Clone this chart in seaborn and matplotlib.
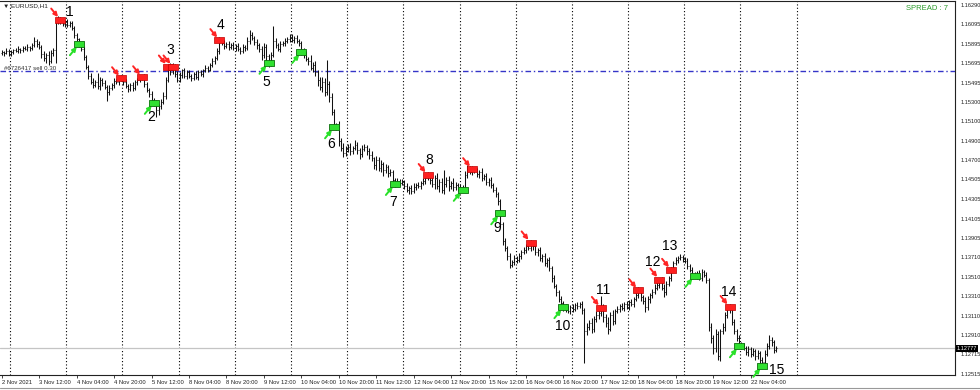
import numpy as np
import seaborn as sns
import matplotlib.pyplot as plt
import matplotlib.transforms as mtransforms
from matplotlib.path import Path
from matplotlib.lines import Line2D

# EURUSD H1, 2 Nov 20:00 .. 22 Nov 15:00, prices in pips above 1.12000
first_open = 380
close_pips = [
    381, 380, 382, 379,
    381, 383, 382, 384, 383, 385, 384, 386, 385, 388, 392, 389, 386, 379, 375, 378, 372, 380, 383, 412, 415, 413, 410, 412,
    409, 411, 405, 398, 394, 389, 384, 376, 366, 356, 350, 347, 350, 346, 352, 349, 345, 340, 344, 347, 351, 350, 353, 354,
    350, 346, 343, 347, 344, 350, 352, 354, 355, 348, 342, 338, 332, 329, 322, 326, 330, 336, 352, 366, 360, 367, 358, 352,
    357, 362, 356, 360, 356, 354, 358, 355, 360, 358, 362, 365, 363, 368, 372, 375, 382, 393, 390, 387, 389, 386, 388, 385,
    387, 384, 382, 386, 385, 392, 398, 395, 391, 388, 384, 378, 386, 377, 370, 378, 392, 388, 384, 389, 390, 392, 394, 396,
    393, 395, 392, 390, 382, 378, 374, 372, 365, 368, 360, 352, 345, 350, 340, 348, 335, 320, 305, 306, 290, 283, 278, 282,
    284, 280, 283, 286, 281, 277, 282, 284, 280, 276, 272, 265, 270, 262, 266, 260, 263, 257, 258, 250, 246, 249, 247, 248,
    244, 240, 242, 239, 243, 245, 244, 247, 249, 252, 255, 250, 246, 252, 244, 248, 240, 246, 250, 244, 247, 243, 245, 241,
    243, 240, 255, 262, 258, 261, 259, 256, 258, 252, 254, 248, 250, 245, 240, 236, 228, 205, 188, 180, 172, 163, 166, 170,
    168, 172, 176, 178, 182, 180, 186, 182, 176, 178, 170, 172, 165, 168, 160, 150, 142, 135, 128, 124, 120, 118, 116, 120,
    118, 122, 121, 123, 117, 95, 100, 104, 98, 108, 112, 114, 119, 110, 104, 98, 112, 106, 116, 118, 121, 119, 123, 120,
    125, 123, 128, 132, 137, 130, 126, 120, 128, 132, 135, 140, 143, 148, 140, 135, 144, 150, 158, 165, 168, 170, 171, 169,
    167, 162, 158, 154, 152, 154, 150, 156, 153, 148, 100, 88, 78, 92, 70, 95, 100, 112, 118, 120, 105, 96, 88, 82,
    80, 78, 74, 77, 72, 75, 70, 73, 66, 64, 72, 80, 86, 84, 76, 78,
]
up_wick = [
    2, 1, 3, 2,
    2, 1, 2, 3, 1, 2, 2, 3, 1, 2, 4, 2, 3, 2, 3, 2, 4, 3, 2, 2, 3, 2, 3, 2,
    3, 2, 2, 3, 2, 1, 2, 3, 2, 2, 3, 4, 2, 9, 3, 2, 3, 2, 3, 2, 3, 2, 2, 3,
    2, 3, 2, 2, 3, 2, 2, 3, 2, 3, 2, 2, 3, 2, 3, 2, 3, 4, 3, 2, 4, 3, 2, 3,
    3, 2, 3, 2, 3, 2, 2, 3, 2, 3, 2, 3, 2, 2, 3, 2, 3, 3, 2, 3, 2, 3, 2, 3,
    2, 3, 2, 3, 2, 4, 5, 3, 2, 3, 2, 3, 4, 3, 2, 3, 16, 3, 2, 3, 2, 3, 2, 3,
    3, 2, 3, 2, 2, 3, 4, 2, 6, 3, 4, 2, 3, 5, 4, 25, 3, 4, 3, 2, 4, 3, 5, 3,
    3, 4, 2, 5, 3, 2, 4, 3, 2, 3, 4, 2, 5, 3, 4, 2, 3, 2, 3, 2, 2, 3, 2, 3,
    2, 3, 2, 3, 4, 2, 3, 2, 3, 2, 3, 2, 4, 3, 5, 3, 4, 14, 3, 4, 2, 5, 3, 2,
    3, 2, 4, 3, 2, 3, 2, 3, 2, 4, 2, 3, 2, 3, 2, 3, 2, 3, 2, 3, 2, 3, 2, 3,
    2, 3, 2, 3, 2, 4, 3, 2, 3, 2, 3, 2, 3, 2, 3, 2, 3, 2, 2, 3, 2, 3, 4, 2,
    3, 2, 3, 2, 3, 2, 4, 3, 5, 3, 4, 3, 12, 4, 3, 6, 3, 5, 2, 3, 2, 3, 2, 3,
    2, 3, 2, 3, 4, 3, 2, 4, 3, 2, 3, 4, 3, 2, 3, 4, 3, 2, 3, 2, 3, 2, 3, 2,
    2, 3, 2, 3, 2, 3, 4, 3, 2, 3, 2, 4, 3, 6, 4, 3, 4, 3, 2, 3, 2, 3, 2, 3,
    2, 3, 2, 3, 2, 3, 2, 3, 2, 3, 4, 3, 5, 3, 2, 2,
]
dn_wick = [
    2, 3, 1, 2,
    2, 2, 1, 2, 3, 2, 1, 2, 3, 2, 2, 3, 2, 4, 3, 5, 4, 2, 3, 13, 2, 3, 2, 3,
    2, 3, 2, 3, 2, 3, 2, 3, 2, 3, 2, 3, 2, 3, 4, 3, 2, 9, 3, 2, 3, 2, 3, 2,
    3, 2, 3, 2, 3, 2, 3, 2, 2, 3, 2, 3, 2, 3, 8, 6, 3, 2, 3, 2, 3, 2, 3, 2,
    2, 3, 2, 3, 2, 3, 2, 2, 3, 2, 3, 2, 3, 2, 2, 3, 2, 3, 2, 3, 2, 3, 2, 2,
    3, 2, 3, 2, 3, 2, 3, 2, 3, 4, 3, 5, 3, 6, 4, 3, 2, 3, 2, 3, 2, 3, 2, 3,
    2, 3, 2, 3, 4, 3, 2, 4, 3, 5, 4, 6, 3, 5, 4, 3, 5, 4, 3, 4, 5, 3, 4, 3,
    3, 4, 3, 2, 4, 6, 3, 2, 4, 5, 3, 4, 5, 3, 4, 6, 3, 4, 3, 4, 3, 2, 3, 2,
    3, 2, 4, 3, 2, 3, 2, 3, 2, 3, 2, 4, 3, 5, 3, 6, 3, 4, 3, 5, 3, 4, 3, 2,
    3, 2, 2, 3, 2, 3, 2, 3, 4, 3, 2, 3, 4, 3, 2, 3, 4, 3, 5, 3, 4, 3, 2, 3,
    3, 2, 3, 2, 3, 2, 3, 4, 3, 4, 3, 4, 3, 4, 3, 4, 3, 4, 3, 3, 4, 3, 2, 3,
    3, 2, 3, 2, 4, 32, 4, 3, 5, 4, 3, 4, 3, 5, 4, 6, 3, 4, 3, 2, 3, 2, 3, 2,
    3, 2, 3, 2, 3, 4, 3, 5, 3, 4, 3, 2, 3, 4, 3, 5, 3, 2, 3, 2, 2, 3, 2, 3,
    2, 3, 2, 3, 2, 3, 2, 3, 2, 3, 4, 5, 6, 4, 4, 5, 3, 4, 3, 4, 3, 4, 3, 2,
    3, 2, 3, 4, 3, 2, 4, 3, 4, 4, 3, 2, 3, 4, 3, 2,
]

# signal arrows (bar index, price in pips)
sell_idx = [25, 51, 60, 71, 73, 93, 182, 201, 226, 256, 272, 281, 286, 311]
sell_pips = [414, 354, 355, 366, 366, 393, 255, 261, 186, 119, 137, 148, 158, 120]
buy_idx = [33, 65, 114, 128, 142, 168, 197, 213, 240, 296, 315, 325]
buy_pips = [389, 329, 370, 381, 304, 246, 240, 216, 120, 152, 80, 60]

sig_num = list(range(1, 16))
sig_idx = [25, 65, 71, 93, 114, 142, 168, 182, 213, 240, 256, 281, 286, 311, 325]
sig_pips = [414, 329, 366, 393, 370, 304, 246, 255, 216, 120, 119, 148, 158, 120, 60]

time_labels = ["2 Nov 2021", "3 Nov 12:00", "4 Nov 04:00", "4 Nov 20:00", "5 Nov 12:00",
               "8 Nov 04:00", "8 Nov 20:00", "9 Nov 12:00", "10 Nov 04:00", "10 Nov 20:00",
               "11 Nov 12:00", "12 Nov 04:00", "12 Nov 20:00", "15 Nov 12:00", "16 Nov 04:00",
               "16 Nov 20:00", "17 Nov 12:00", "18 Nov 04:00", "18 Nov 20:00", "19 Nov 12:00",
               "22 Nov 04:00"]
price_ticks = [1.16290, 1.16095, 1.15895, 1.15695, 1.15495, 1.15300, 1.15100, 1.14900,
               1.14700, 1.14505, 1.14305, 1.14105, 1.13905, 1.13710, 1.13510, 1.13310,
               1.13110, 1.12910, 1.12715, 1.12515]
order_price = 1.15615
order_text = "#6726417 sell 0.30"
last_price = 1.12777
spread_text = "SPREAD : 7"
symbol_text = "EURUSD,H1"

# label offsets in pixels (dx right, dy down) from each numbered signal
label_off = {1: (10, -8), 2: (-3, 14), 3: (2, -17), 4: (1, -15), 5: (-2, 19),
             6: (-3, 17), 7: (-2, 18), 8: (2, -15), 9: (-3, 15), 10: (-1, 19),
             11: (2, -18), 12: (-7, -18), 13: (-1, -24), 14: (-1, -15), 15: (14, 4)}

sns.set_theme(style="white")
plt.rcParams['font.family'] = ['Liberation Sans', 'DejaVu Sans']

base = 1.12
c = base + np.array(close_pips) * 1e-4
o = np.r_[base + first_open * 1e-4, c[:-1]]
hi = np.maximum(o, c) + np.array(up_wick) * 1e-4
lo = np.minimum(o, c) - np.array(dn_wick) * 1e-4
x = np.arange(len(c))

fig = plt.figure(figsize=(9.8, 3.9), dpi=100)
ax = fig.add_axes([0, 15 / 390, 955 / 980, 374.2 / 390])
ax.set_xlim(-0.73, 407.3)
ax.set_ylim(1.12505, 1.16333)

# day separators
for d in np.arange(4, 341, 24):
    ax.axvline(d - 0.4, color="black", lw=0.8, ls=(0, (1, 2)), zorder=1)

ax.axhline(last_price, color="#c4c4c4", lw=0.9, zorder=1)
ax.axhline(order_price, color="#3535c8", lw=1.0, ls=(0, (4, 2, 1, 2)), zorder=1)
ax.text(0.004, order_price + 0.00003, order_text, transform=mtransforms.blended_transform_factory(ax.transAxes, ax.transData),
        fontsize=4.4, color="#333333", va="bottom", ha="left")

# OHLC bars
ax.vlines(x, lo, hi, color="#111111", lw=0.75, zorder=3)
ax.hlines(o, x - 0.4, x, color="#111111", lw=0.6, zorder=3)
ax.hlines(c, x, x + 0.4, color="#111111", lw=0.6, zorder=3)

box = Path([(-1.7, -1), (1.7, -1), (1.7, 1), (-1.7, 1), (-1.7, -1)],
           [Path.MOVETO, Path.LINETO, Path.LINETO, Path.LINETO, Path.CLOSEPOLY])

sell_p = base + np.array(sell_pips) * 1e-4
buy_p = base + np.array(buy_pips) * 1e-4
for i, p in zip(sell_idx, sell_p):
    ax.annotate("", xy=(i, p), xytext=(-6.5, 8), textcoords="offset points",
                arrowprops=dict(arrowstyle="-|>", color="#ff2424", lw=1.4, shrinkA=0, shrinkB=2.5,
                                mutation_scale=6), zorder=4)
for i, p in zip(buy_idx, buy_p):
    ax.annotate("", xy=(i, p), xytext=(-6.5, -8), textcoords="offset points",
                arrowprops=dict(arrowstyle="-|>", color="#28e028", lw=1.4, shrinkA=0, shrinkB=2.5,
                                mutation_scale=6), zorder=4)
sns.scatterplot(x=sell_idx, y=sell_p, marker=box, s=58, color="#ff2020", edgecolor="#c00000",
                linewidth=0.5, ax=ax, zorder=5)
sns.scatterplot(x=buy_idx, y=buy_p, marker=box, s=58, color="#30e030", edgecolor="#0b6e0b",
                linewidth=0.6, ax=ax, zorder=5)

for n, i, pp in zip(sig_num, sig_idx, sig_pips):
    dx, dy = label_off[n]
    ax.annotate(str(n), xy=(i, base + pp * 1e-4), xytext=(dx * 0.72, -dy * 0.72),
                textcoords="offset points", ha="center", va="center", fontsize=10, color="black", zorder=6)

# axes
ax.yaxis.tick_right()
ax.set_yticks(price_ticks)
ax.set_yticklabels([f"{v:.5f}" for v in price_ticks])
ax.set_xticks(np.arange(0, 16 * len(time_labels), 16))
ax.set_xticklabels(time_labels)
for lab in ax.get_xticklabels():
    lab.set_ha("left")
ax.tick_params(axis="y", right=True, left=False, length=2.5, width=0.6, labelsize=4.1, pad=1.2, colors="#222222")
ax.tick_params(axis="x", bottom=True, length=2.5, width=0.6, labelsize=4.2, pad=1, colors="#222222")
sns.despine(ax=ax, left=True, top=False, right=False, bottom=False)
for side in ["right", "bottom", "top"]:
    ax.spines[side].set_color("#222222")
    ax.spines[side].set_linewidth(0.8)

ax.text(1.002, last_price, f"{last_price:.5f}", transform=mtransforms.blended_transform_factory(ax.transAxes, ax.transData),
        ha="left", va="center", fontsize=4.1, color="white",
        bbox=dict(facecolor="black", edgecolor="none", pad=0.6), zorder=7)

ax.text(0.003, 0.993, "\u25bc " + symbol_text, transform=ax.transAxes, ha="left", va="top",
        fontsize=4.6, color="#222222")
ax.text(0.993, 0.99, spread_text, transform=ax.transAxes, ha="right", va="top",
        fontsize=5.5, color="#2a9a2a")

fig.add_artist(Line2D([0, 1], [2.5 / 390, 2.5 / 390], color="#999999", lw=0.8))

fig.savefig("out.png", dpi=100)
